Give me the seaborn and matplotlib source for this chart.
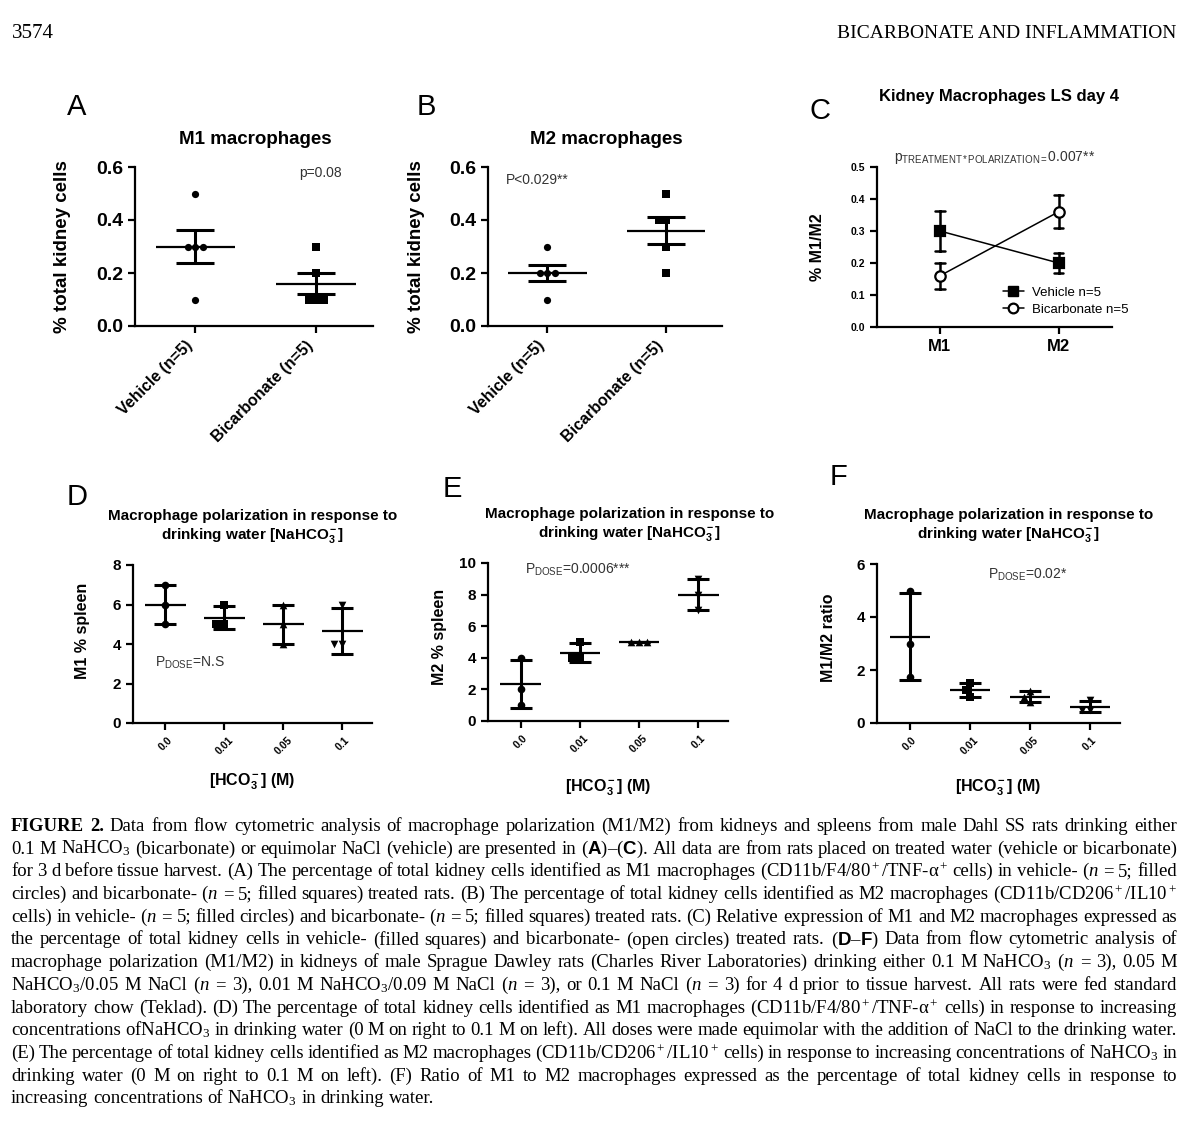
# Figure 2 - bicarbonate and macrophage polarization (kidney / spleen)

import numpy as np
import pandas as pd
import matplotlib
matplotlib.use('Agg')
import matplotlib.pyplot as plt
import seaborn as sns
from matplotlib.lines import Line2D
from matplotlib.ticker import FormatStrFormatter

# %% Data

groups = ['Vehicle (n=5)', 'Bicarbonate (n=5)']
m1_vehicle = [0.5, 0.3, 0.3, 0.3, 0.1]
m1_bicarb = [0.3, 0.2, 0.1, 0.1, 0.1]
m2_vehicle = [0.3, 0.2, 0.2, 0.2, 0.1]
m2_bicarb = [0.5, 0.4, 0.4, 0.3, 0.2]

treatments = ['Vehicle n=5', 'Bicarbonate n=5']
polarization = ['M1', 'M2']

doses = ['0.0', '0.01', '0.05', '0.1']
dose_markers = ['o', 's', '^', 'v']
m1_spleen = [[7, 6, 5], [6, 5, 5], [6, 5, 4], [6, 4, 4]]
m2_spleen = [[4, 2, 1], [5, 4, 4], [5, 5, 5], [9, 8, 7]]
m1m2_ratio = [[5, 3, 1.75], [1.5, 1.25, 1.0], [1.2, 1.0, 0.8], [0.85, 0.5, 0.5]]

caption = [
    r"#FIGURE #2. Data from flow cytometric analysis of macrophage polarization (M1/M2) from kidneys and spleens from male Dahl SS rats drinking either",
    r"0.1 M NaHCO$_3$ (bicarbonate) or equimolar NaCl (vehicle) are presented in ($\mathbf{A}$)–($\mathbf{C}$). All data are from rats placed on treated water (vehicle or bicarbonate)",
    r"for 3 d before tissue harvest. (A) The percentage of total kidney cells identified as M1 macrophages (CD11b/F4/80$^+$/TNF-α$^+$ cells) in vehicle- ($\mathit{n}$ = 5; filled",
    r"circles) and bicarbonate- ($\mathit{n}$ = 5; filled squares) treated rats. (B) The percentage of total kidney cells identified as M2 macrophages (CD11b/CD206$^+$/IL10$^+$",
    r"cells) in vehicle- ($\mathit{n}$ = 5; filled circles) and bicarbonate- ($\mathit{n}$ = 5; filled squares) treated rats. (C) Relative expression of M1 and M2 macrophages expressed as",
    r"the percentage of total kidney cells in vehicle- (filled squares) and bicarbonate- (open circles) treated rats. ($\mathbf{D}$–$\mathbf{F}$) Data from flow cytometric analysis of",
    r"macrophage polarization (M1/M2) in kidneys of male Sprague Dawley rats (Charles River Laboratories) drinking either 0.1 M NaHCO$_3$ ($\mathit{n}$ = 3), 0.05 M",
    r"NaHCO$_3$/0.05 M NaCl ($\mathit{n}$ = 3), 0.01 M NaHCO$_3$/0.09 M NaCl ($\mathit{n}$ = 3), or 0.1 M NaCl ($\mathit{n}$ = 3) for 4 d prior to tissue harvest. All rats were fed standard",
    r"laboratory chow (Teklad). (D) The percentage of total kidney cells identified as M1 macrophages (CD11b/F4/80$^+$/TNF-α$^+$ cells) in response to increasing",
    r"concentrations ofNaHCO$_3$ in drinking water (0 M on right to 0.1 M on left). All doses were made equimolar with the addition of NaCl to the drinking water.",
    r"(E) The percentage of total kidney cells identified as M2 macrophages (CD11b/CD206$^+$/IL10$^+$ cells) in response to increasing concentrations of NaHCO$_3$ in",
    r"drinking water (0 M on right to 0.1 M on left). (F) Ratio of M1 to M2 macrophages expressed as the percentage of total kidney cells in response to",
    r"increasing concentrations of NaHCO$_3$ in drinking water.",
]

# %% Plot settings

sns.set_theme(style='ticks', rc={'axes.edgecolor': 'black', 'text.color': 'black',
                                 'axes.labelcolor': 'black', 'xtick.color': 'black',
                                 'ytick.color': 'black'})
plt.rcParams['font.family'] = ['Liberation Sans', 'DejaVu Sans']
plt.rcParams['font.weight'] = 'bold'
plt.rcParams['axes.labelweight'] = 'bold'
plt.rcParams['mathtext.fontset'] = 'custom'
plt.rcParams['mathtext.default'] = 'regular'
plt.rcParams['mathtext.rm'] = 'Liberation Sans'
plt.rcParams['mathtext.bf'] = 'Liberation Sans:weight=bold'
plt.rcParams['mathtext.it'] = 'Liberation Serif:style=italic:weight=normal'
plt.rcParams['axes.linewidth'] = 1.6

W, H = 1200, 1132
fig = plt.figure(figsize=(W / 100, H / 100), dpi=100)
fig.patch.set_facecolor('white')


def px_axes(x0, y0, x1, y1):
    return fig.add_axes([x0 / W, 1 - y1 / H, (x1 - x0) / W, (y1 - y0) / H])


def style(ax):
    sns.despine(ax=ax)
    ax.tick_params(axis='both', direction='out', length=5, width=1.6)
    ax.set_facecolor('white')


def mean_err(ax, df, order, err, mean_hw, capsize):
    stats = df.groupby('group')['value'].agg(['mean', err]).reindex(order)
    pos = np.arange(len(order))
    ax.hlines(stats['mean'], pos - mean_hw, pos + mean_hw, color='black', lw=1.6, zorder=4)
    ax.errorbar(pos, stats['mean'], yerr=stats[err].fillna(0), fmt='none', ecolor='black',
                elinewidth=2.2, capsize=capsize, capthick=2.2, zorder=4)


p_kw = dict(fontsize=10, fontweight='normal', color='#333333', ha='center', va='center')

# %% Panels A and B: kidney M1 / M2 (mean +/- SEM)

for (x0, x1), vals_v, vals_b, title, ptxt, ppos in [
        ((135, 373), m1_vehicle, m1_bicarb, 'M1 macrophages', 'p=0.08', (0.78, 0.96)),
        ((488, 722), m2_vehicle, m2_bicarb, 'M2 macrophages', 'P<0.029**', (0.21, 0.92))]:
    ax = px_axes(x0, 167, x1, 326)
    df = pd.DataFrame({'group': [groups[0]] * len(vals_v) + [groups[1]] * len(vals_b),
                       'value': vals_v + vals_b})
    for g, mk in zip(groups, ['o', 's']):
        sns.swarmplot(data=df[df['group'] == g], x='group', y='value', order=groups,
                      marker=mk, color='black', size=5.2, ax=ax, zorder=3)
    mean_err(ax, df, groups, 'sem', 0.33, 14)
    ax.set_xlim(-0.5, 1.47)
    ax.set_ylim(0, 0.6)
    ax.set_yticks([0, 0.2, 0.4, 0.6])
    ax.yaxis.set_major_formatter(FormatStrFormatter('%.1f'))
    ax.set_xticks([0, 1])
    ax.set_xticklabels(groups, rotation=45, ha='right', fontsize=11.5)
    ax.tick_params(axis='y', labelsize=14)
    ax.set_xlabel('')
    ax.set_ylabel('% total kidney cells', fontsize=13.5)
    ax.yaxis.set_label_coords(-0.27, 0.5)
    ax.text(0.505, 1.17, title, transform=ax.transAxes, ha='center', va='center',
            fontsize=13.5, fontweight='bold')
    ax.text(ppos[0], ppos[1], ptxt, transform=ax.transAxes, **p_kw)
    style(ax)

# %% Panel C: M1 vs M2 interaction plot

axC = px_axes(877, 167, 1112, 327)
c_df = pd.DataFrame({
    'polarization': ['M1'] * 10 + ['M2'] * 10,
    'treatment': ([treatments[0]] * 5 + [treatments[1]] * 5) * 2,
    'value': m1_vehicle + m1_bicarb + m2_vehicle + m2_bicarb})
sns.pointplot(data=c_df, x='polarization', y='value', hue='treatment', order=polarization,
              hue_order=treatments, palette=['black', 'black'], markers=['s', 'o'],
              linestyles=['-', '-'], errorbar='se', capsize=0.08, dodge=False,
              err_kws={'linewidth': 1.8}, linewidth=1.1, markersize=7.5,
              markeredgewidth=1.6, legend=False, ax=axC)
for ln in axC.lines:
    if ln.get_marker() == 'o':
        ln.set_markerfacecolor('white')
        ln.set_zorder(5)
axC.set_xlim(-0.53, 1.45)
axC.set_ylim(0, 0.5)
axC.set_yticks(np.arange(0, 0.51, 0.1))
axC.yaxis.set_major_formatter(FormatStrFormatter('%.1f'))
axC.tick_params(axis='y', labelsize=7.5)
axC.tick_params(axis='x', labelsize=12)
axC.set_xlabel('')
axC.set_ylabel('% M1/M2', fontsize=11.5)
axC.yaxis.set_label_coords(-0.22, 0.5)
axC.text(0.52, 1.44, 'Kidney Macrophages LS day 4', transform=axC.transAxes,
         ha='center', va='center', fontsize=12, fontweight='bold')
axC.text(0.5, 1.06, r'p$_{TREATMENT*POLARIZATION=}$0.007**', transform=axC.transAxes, **p_kw)
handles = [Line2D([], [], color='black', marker='s', markersize=6.5, lw=1.1),
           Line2D([], [], color='black', marker='o', markersize=7, lw=1.1,
                  markerfacecolor='white', markeredgewidth=1.6)]
axC.legend(handles, treatments, loc='center left', bbox_to_anchor=(0.535, 0.16),
           frameon=False, borderpad=0, borderaxespad=0, handlelength=1.6,
           handletextpad=0.6, labelspacing=0.35, prop={'weight': 'normal', 'size': 9.5})
style(axC)

# %% Panels D-F: spleen dose response (mean +/- SD)

dose_title = 'Macrophage polarization in response to\ndrinking water [NaHCO$_3^-$]'
for (x0, y0, x1, y1), vals, ylab, ymax, ystep, lab_xy, title_x, ptxt, ppos, xlab_y in [
        ((133, 565, 372, 723), m1_spleen, 'M1 % spleen', 8, 2, (-0.18, 0.58), 0.5,
         r'P$_{DOSE}$=N.S', (0.24, 0.38), -0.31),
        ((488, 563, 728, 721), m2_spleen, 'M2 % spleen', 10, 2, (-0.17, 0.53), 0.59,
         r'P$_{DOSE}$=0.0006***', (0.375, 0.955), -0.36),
        ((877, 564, 1120, 723), m1m2_ratio, 'M1/M2 ratio', 6, 2, (-0.17, 0.535), 0.54,
         r'P$_{DOSE}$=0.02*', (0.62, 0.93), -0.34)]:
    ax = px_axes(x0, y0, x1, y1)
    df = pd.DataFrame({'group': np.repeat(doses, [len(v) for v in vals]),
                       'value': np.concatenate(vals)})
    for d, mk in zip(doses, dose_markers):
        sns.swarmplot(data=df[df['group'] == d], x='group', y='value', order=doses,
                      marker=mk, color='black', size=5.5, ax=ax, zorder=3)
    mean_err(ax, df, doses, 'std', 0.34, 7.8)
    ax.set_xlim(-0.55, 3.5)
    ax.set_ylim(0, ymax)
    ax.set_yticks(np.arange(0, ymax + 0.1, ystep))
    ax.set_xticks(range(len(doses)))
    ax.set_xticklabels(doses, rotation=45, ha='center', fontsize=7.5)
    ax.tick_params(axis='y', labelsize=11)
    ax.set_ylabel(ylab, fontsize=11.5)
    ax.yaxis.set_label_coords(*lab_xy)
    ax.set_xlabel('[HCO$_3^-$] (M)', fontsize=11.5)
    ax.xaxis.set_label_coords(0.5, xlab_y)
    ax.text(title_x, 1.24, dose_title, transform=ax.transAxes, ha='center', va='center',
            fontsize=11, fontweight='bold', linespacing=1.25)
    ax.text(ppos[0], ppos[1], ptxt, transform=ax.transAxes, **p_kw)
    style(ax)

# %% Panel letters and page header

for letter, (lx, ly) in zip('ABCDEF', [(77, 107), (426, 107), (820, 111),
                                       (77, 497), (452, 489), (838, 477)]):
    fig.text(lx / W, 1 - ly / H, letter, fontsize=21, fontweight='normal',
             ha='center', va='center')

serif = ['Liberation Serif', 'DejaVu Serif']
fig.text(12 / W, 1 - 34 / H, '3574', family=serif, fontsize=15, fontweight='normal',
         ha='left', va='center')
fig.text(1176 / W, 1 - 34 / H, 'BICARBONATE AND INFLAMMATION', family=serif, fontsize=14,
         fontweight='normal', ha='right', va='center')

# %% Caption, justified word by word

fig.canvas.draw()
renderer = fig.canvas.get_renderer()
left, right = 11, 1177
for i, line in enumerate(caption):
    y = 1 - (831 + i * 22.7) / H
    texts = []
    for w in line.split(' '):
        bold = w.startswith('#')
        texts.append(fig.text(0, y, w.lstrip('#'), family=serif, fontsize=13.5,
                              fontweight='bold' if bold else 'normal',
                              ha='left', va='baseline'))
    widths = [t.get_window_extent(renderer).width for t in texts]
    if i == len(caption) - 1:
        gap = 4.5
    else:
        gap = (right - left - sum(widths)) / (len(texts) - 1)
    x = left
    for t, wd in zip(texts, widths):
        t.set_x(x / W)
        x += wd + gap

fig.savefig('out.png', dpi=100, facecolor='white')
